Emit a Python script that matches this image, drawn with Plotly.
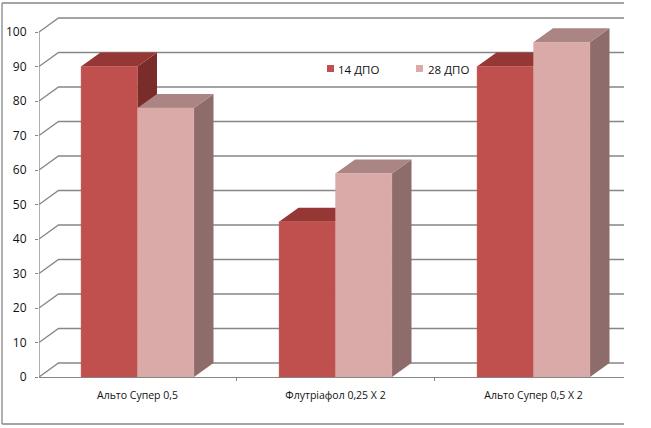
import plotly.graph_objects as go

categories = ["Альто Супер 0,5", "Флутріафол 0,25 Х 2", "Альто Супер 0,5 Х 2"]
series_names = ["14 ДПО", "28 ДПО"]
values_14 = [90, 45, 90]
values_28 = [78, 59, 97]
y_ticks = [0, 10, 20, 30, 40, 50, 60, 70, 80, 90, 100]

FRONT = ["#C0504D", "#D9AAA8"]
TOP = ["#953735", "#AA8583"]
SIDE = ["#7A2C2A", "#8E6C6C"]
GRID = "#868686"
FONT = "Open Sans"

CAT_PX = 198.0
VAL_PX = 3.45
X_RANGE = [(39 - 137.5) / CAT_PX, (624 - 137.5) / CAT_PX]
Y_RANGE = [0, (377 - 3) / VAL_PX]
DX = 19.5 / CAT_PX
DY = 14 / VAL_PX
BAR_W = 56.5 / CAT_PX

fig = go.Figure()

for t in y_ticks:
    fig.add_trace(go.Scatter(
        x=[X_RANGE[0], X_RANGE[0] + DX, X_RANGE[1]], y=[t, t + DY, t + DY],
        mode="lines", line=dict(color=GRID, width=1.3), showlegend=False, hoverinfo="skip"))

fig.add_trace(go.Scatter(
    x=[X_RANGE[0], X_RANGE[0]], y=[y_ticks[0], y_ticks[-1]], mode="lines",
    line=dict(color=GRID, width=1.3), cliponaxis=False, showlegend=False, hoverinfo="skip"))


def face(xs, ys, color):
    fig.add_trace(go.Scatter(x=xs, y=ys, mode="lines", fill="toself", fillcolor=color,
                             line=dict(width=0, color=color), showlegend=False, hoverinfo="skip"))


for s, vals in enumerate([values_14, values_28]):
    for i, v in enumerate(vals):
        left = i - BAR_W + s * BAR_W
        right = left + BAR_W
        face([right, right, right + DX, right + DX, right], [0, v, v + DY, DY, 0], SIDE[s])
        face([left, right, right + DX, left + DX, left], [v, v, v + DY, v + DY, v], TOP[s])

for s, vals in enumerate([values_14, values_28]):
    fig.add_trace(go.Bar(x=[0, 1, 2], y=vals, name=series_names[s],
                         marker=dict(color=FRONT[s], line=dict(width=0.4, color=FRONT[s])),
                         xaxis="x2", yaxis="y2", showlegend=False))

shapes = [
    dict(type="line", xref="paper", yref="paper", x0=(2 - 39) / 585, x1=1, y0=1, y1=1, line=dict(color=GRID, width=1.3)),
    dict(type="line", xref="paper", yref="paper", x0=(2 - 39) / 585, x1=1, y0=(377 - 424) / 374, y1=(377 - 424) / 374, line=dict(color=GRID, width=1.3)),
    dict(type="line", xref="paper", yref="paper", x0=(2 - 39) / 585, x1=(2 - 39) / 585, y0=1, y1=(377 - 424) / 374, line=dict(color=GRID, width=1.3)),
]
annotations = []
for s, (sw, tx) in enumerate([(327, 338), (416, 428)]):
    shapes.append(dict(type="rect", xref="paper", yref="paper", x0=(sw - 39) / 585, x1=(sw + 7 - 39) / 585,
                       y0=(377 - 72) / 374, y1=(377 - 65) / 374, fillcolor=FRONT[s], line=dict(width=0)))
    annotations.append(dict(xref="paper", yref="paper", x=(tx - 39) / 585, y=(377 - 69) / 374, xanchor="left", yanchor="middle",
                            text=series_names[s], showarrow=False, xshift=-2, font=dict(family=FONT, size=11.5, color="#111111")))

fig.update_layout(
    width=651, height=428, margin=dict(l=39, r=27, t=3, b=51, pad=0),
    paper_bgcolor="white", plot_bgcolor="white", showlegend=False,
    barmode="group", bargap=0.43, bargroupgap=0,
    shapes=shapes, annotations=annotations,
    xaxis=dict(range=X_RANGE, tickmode="array", tickvals=[0, 1, 2], ticktext=categories, ticks="", showgrid=False,
               zeroline=False, showline=True, linecolor=GRID, linewidth=1.3, ticklabelstandoff=8,
               tickfont=dict(family=FONT, size=10.5, color="#111111"),
               minor=dict(tickmode="array", tickvals=[-0.5, 0.5, 1.5], ticks="outside", ticklen=3, tickcolor=GRID, tickwidth=1.2)),
    yaxis=dict(range=Y_RANGE, tickmode="array", tickvals=y_ticks, ticks="outside", ticklen=3, tickcolor=GRID, tickwidth=1.2,
               showgrid=False, zeroline=False, showline=False, ticklabelstandoff=6,
               tickfont=dict(family=FONT, size=12, color="#111111")),
    xaxis2=dict(range=X_RANGE, overlaying="x", visible=False, anchor="y2"),
    yaxis2=dict(range=Y_RANGE, overlaying="y", visible=False, anchor="x2"),
)

fig.write_html("out.html", config={"displayModeBar": False}, post_script="document.body.style.margin='0';")
